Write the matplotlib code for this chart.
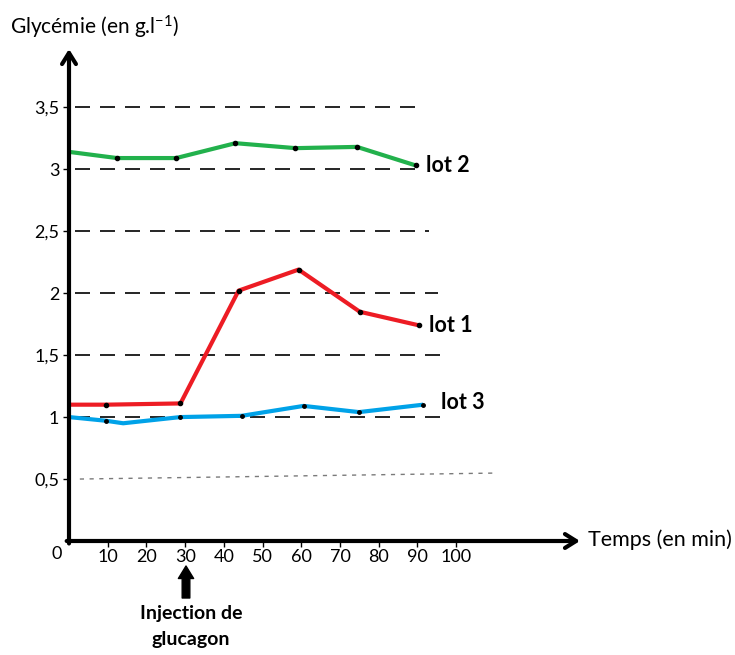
import matplotlib
matplotlib.use('Agg')
import matplotlib.pyplot as plt

plt.rcParams['font.family'] = ['Lato', 'DejaVu Sans']
plt.rcParams['mathtext.fontset'] = 'custom'
plt.rcParams['mathtext.rm'] = 'Lato'
plt.rcParams['mathtext.default'] = 'rm'

# glycémie (g/L), time in min
t_lot2 = [0, 12.4, 27.7, 43, 58.5, 74.4, 89.6]
g_lot2 = [3.14, 3.09, 3.09, 3.21, 3.17, 3.18, 3.03]

t_lot1 = [0, 9.6, 28.8, 43.8, 59.3, 75.1, 90.4]
g_lot1 = [1.10, 1.10, 1.11, 2.02, 2.19, 1.85, 1.74]

t_lot3 = [0, 9.6, 14, 28.8, 44.6, 60.6, 74.9, 91.5]
g_lot3 = [1.00, 0.97, 0.95, 1.00, 1.01, 1.09, 1.04, 1.10]
pts_lot3 = [1, 3, 4, 5, 6, 7]  # which points carry a dot

x_ticks = [10, 20, 30, 40, 50, 60, 70, 80, 90, 100]
y_ticks = [0.5, 1, 1.5, 2, 2.5, 3, 3.5]
y_labels = ['0,5', '1', '1,5', '2', '2,5', '3', '3,5']

# dashed reference lines and how far they run
ref_lvls = [3.5, 3, 2.5, 2, 1.5, 1]
ref_end = [90, 91.5, 93, 95.3, 96.6, 97.4]

fig = plt.figure(figsize=(7.35, 6.55), dpi=100)
ax = fig.add_axes([69 / 735, 114 / 655, 511 / 735, 492 / 655])
ax.set_xlim(0, 132)
ax.set_ylim(0, 3.97)

for lvl, end in zip(ref_lvls, ref_end):
    ax.plot([1.5, end], [lvl, lvl], color='black', lw=1.2, dashes=(9, 6))
ax.plot([2.8, 109.8], [0.5, 0.548], color='#7a7a7a', lw=1.0, dashes=(3, 4))

ax.plot(t_lot2, g_lot2, color='#22b14c', lw=3, solid_capstyle='butt')
ax.plot(t_lot2[1:], g_lot2[1:], 'o', color='black', ms=3)
ax.plot(t_lot1, g_lot1, color='#ed1c24', lw=3, solid_capstyle='butt')
ax.plot(t_lot1[1:], g_lot1[1:], 'o', color='black', ms=3)
ax.plot(t_lot3, g_lot3, color='#00a2e8', lw=3, solid_capstyle='butt')
ax.plot([t_lot3[i] for i in pts_lot3], [g_lot3[i] for i in pts_lot3], 'o',
        color='black', ms=2.5)

ax.text(92.2, 3.03, 'lot 2', fontsize=15.5, fontweight='bold', va='center')
ax.text(93, 1.74, 'lot 1', fontsize=15.5, fontweight='bold', va='center')
ax.text(96, 1.12, 'lot 3', fontsize=15.5, fontweight='bold', va='center')

# axes drawn as arrows
for s in ax.spines.values():
    s.set_visible(False)
ax.annotate('', xy=(132, 0), xytext=(-0.6, 0),
            arrowprops=dict(arrowstyle='->,head_length=0.8,head_width=0.5',
                            lw=3, color='black', shrinkA=0, shrinkB=0),
            annotation_clip=False)
ax.annotate('', xy=(0, 3.97), xytext=(0, -0.02),
            arrowprops=dict(arrowstyle='->,head_length=0.8,head_width=0.5',
                            lw=3, color='black', shrinkA=0, shrinkB=0),
            annotation_clip=False)

ax.set_xticks(x_ticks)
ax.set_xticklabels([str(v) for v in x_ticks])
ax.set_yticks(y_ticks)
ax.set_yticklabels(y_labels)
ax.tick_params(axis='both', direction='out', length=4, width=1, labelsize=13)
ax.tick_params(axis='x', pad=2)
ax.tick_params(axis='y', pad=3)
ax.text(-3.2, -0.04, '0', fontsize=13, ha='center', va='top')

fig.text(10 / 735, 1 - 27 / 655, 'Glycémie (en g.l$^{-1}$)', fontsize=15,
         ha='left', va='center')
fig.text(588 / 735, 1 - 540 / 655, 'Temps (en min)', fontsize=15.5,
         ha='left', va='center')

ax.annotate('', xy=(186, 655 - 566), xytext=(186, 655 - 598),
            xycoords='figure pixels', textcoords='figure pixels',
            arrowprops=dict(arrowstyle='simple,head_length=0.9,head_width=1.1,tail_width=0.55',
                            color='black', shrinkA=0, shrinkB=0))
fig.text(191 / 735, 1 - 614 / 655, 'Injection de', fontsize=14, fontweight='bold',
         ha='center', va='center')
fig.text(191 / 735, 1 - 640 / 655, 'glucagon', fontsize=14, fontweight='bold',
         ha='center', va='center')

fig.savefig('out.png', dpi=100)
